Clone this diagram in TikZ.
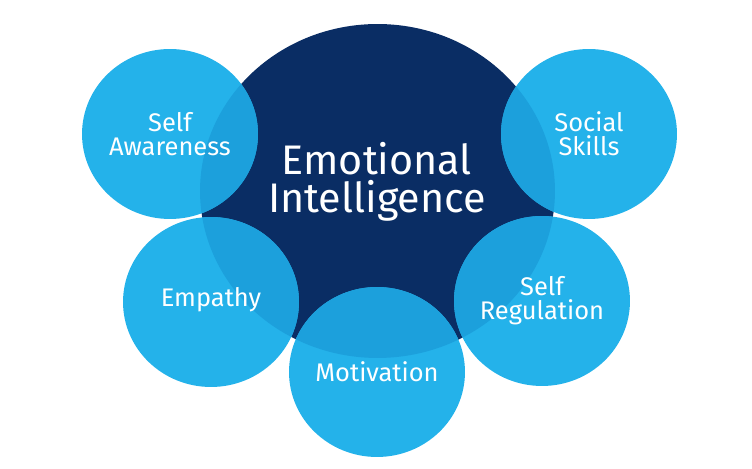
\documentclass[tikz,border=0pt]{standalone}
\usepackage{fontspec}
\setmainfont{Fira Sans}
\definecolor{einavy}{HTML}{0A2D64}
\definecolor{eiblue}{HTML}{24B2EA}
\definecolor{eimid}{HTML}{1CA0DC}
\begin{document}
\begin{tikzpicture}[x=0.02cm,y=0.02cm,
    core/.style={text=white,align=center,font=\fontsize{23.5}{21.5}\selectfont},
    skill/.style={text=white,align=center,font=\fontsize{14.5}{13.5}\selectfont}]
  \useasboundingbox (0,0) rectangle (752,469);
  \fill[einavy] (377.5,278) ellipse (3.55cm and 3.34cm);
  \foreach \x/\y in {170/335,589/335,211/167,542/168,377/97}
    \fill[eiblue] (\x,\y) ellipse (1.76cm and 1.70cm);
  \begin{scope}
    \clip (377.5,278) ellipse (3.55cm and 3.34cm);
    \foreach \x/\y in {170/335,589/335,211/167,542/168,377/97}
      \fill[eimid] (\x,\y) ellipse (1.76cm and 1.70cm);
  \end{scope}
  \node[core] (ei) at (377,287) {Emotional\\Intelligence};
  \node[skill] (aware) at (170,335) {Self\\Awareness};
  \node[skill] (social) at (589,335) {Social\\Skills};
  \node[skill] (empathy) at (211,169) {Empathy};
  \node[skill] (regul) at (542,168) {Self\\Regulation};
  \node[skill] (motiv) at (377,97) {Motivation};
\end{tikzpicture}
\end{document}
